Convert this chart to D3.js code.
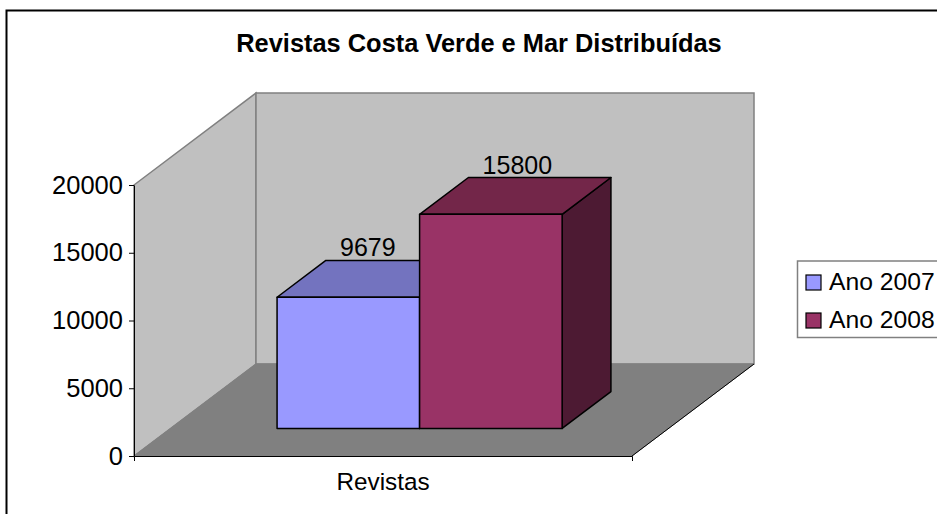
<!DOCTYPE html>
<html>
<head>
<meta charset="utf-8">
<script src="https://cdn.jsdelivr.net/npm/d3@7/dist/d3.min.js"></script>
<style>
html,body{margin:0;padding:0;background:#fff;overflow:hidden}
svg{display:block}
text{font-family:"Liberation Sans",Arial,sans-serif;fill:#000}
</style>
</head>
<body>
<svg id="chart" width="937" height="514"></svg>
<script>
const chartTitle = "Revistas Costa Verde e Mar Distribuídas";
const categories = ["Revistas"];
const seriesNames = ["Ano 2007", "Ano 2008"];
const seriesValues = [9679, 15800];
const yTicks = [0, 5000, 10000, 15000, 20000];
const faceColors = ["#9999FF", "#993366"];
const topColors = ["#7373BF", "#732649"];
const sideColors = ["#4D4D80", "#4D1A33"];

const svg = d3.select("#chart");
const frontX = [134, 632], yRange = [456, 185];
const depthDx = 122, depthDy = -92;
const barDepth = [0.30, 0.70];

const y = d3.scaleLinear().domain([0, 20000]).range(yRange);
const xCat = d3.scaleBand().domain(categories).range(frontX);
const xSeries = d3.scaleBand().domain(seriesNames).range(frontX).paddingInner(0).paddingOuter(0.747);
const depth = d3.scaleLinear().domain([0, 1]);
const dX = depth.copy().range([0, depthDx]);
const dY = depth.copy().range([0, depthDy]);
const pts = a => a.map(p => p.join(",")).join(" ");

// frame
svg.append("rect").attr("x", 6.5).attr("y", 10.5).attr("width", 1000).attr("height", 600)
  .attr("fill", "#fff").attr("stroke", "#000").attr("stroke-width", 2);

// walls and floor
const y0 = y(0), y1 = y(20000), bx = depthDx, by = depthDy;
const [xl, xr] = frontX;
svg.append("polygon").attr("points", pts([[xl, y1], [xl + bx, y1 + by], [xl + bx, y0 + by], [xl, y0]]))
  .attr("fill", "#C0C0C0").attr("stroke", "#808080").attr("stroke-width", 1.5);
svg.append("polygon").attr("points", pts([[xl + bx, y1 + by], [xr + bx, y1 + by], [xr + bx, y0 + by], [xl + bx, y0 + by]]))
  .attr("fill", "#C0C0C0").attr("stroke", "#808080").attr("stroke-width", 1.5);
svg.append("polygon").attr("points", pts([[xl, y0], [xl + bx, y0 + by], [xr + bx, y0 + by], [xr, y0]]))
  .attr("fill", "#808080").attr("stroke", "#808080").attr("stroke-width", 1);
svg.append("line").attr("x1", xr).attr("y1", y0).attr("x2", xr + bx).attr("y2", y0 + by)
  .attr("stroke", "#000").attr("stroke-width", 1);

// bars
const fx = dX(barDepth[0]), fy = dY(barDepth[0]);
const bkx = dX(barDepth[1]), bky = dY(barDepth[1]);
const bars = svg.append("g").attr("stroke", "#000").attr("stroke-width", 1.5).attr("stroke-linejoin", "round");
seriesNames.forEach((name, i) => {
  const l = xSeries(name) + fx, r = l + xSeries.bandwidth();
  const b = y0 + fy, t = y(seriesValues[i]) + fy;
  const ox = bkx - fx, oy = bky - fy;
  bars.append("polygon").attr("points", pts([[r, t], [r + ox, t + oy], [r + ox, b + oy], [r, b]])).attr("fill", sideColors[i]);
  bars.append("polygon").attr("points", pts([[l, t], [l + ox, t + oy], [r + ox, t + oy], [r, t]])).attr("fill", topColors[i]);
  bars.append("rect").attr("x", l).attr("y", t).attr("width", r - l).attr("height", b - t).attr("fill", faceColors[i]);
  svg.append("text").attr("x", l + 63).attr("y", t + oy - 4).attr("font-size", 25).text(seriesValues[i]);
});

// axes
const yAxis = svg.append("g").attr("transform", `translate(${xl},0)`)
  .call(d3.axisLeft(y).tickValues(yTicks).tickSize(5).tickSizeOuter(0).tickPadding(6).tickFormat(d3.format("d")));
const xAxis = svg.append("g").attr("transform", `translate(0,${y0})`)
  .call(d3.axisBottom(xCat).tickSizeInner(0).tickSizeOuter(5).tickPadding(17));
[yAxis, xAxis].forEach(a => a.attr("font-family", null).attr("font-size", null));
yAxis.selectAll("text").attr("font-size", 25.5).attr("fill", "#000");
xAxis.selectAll("text").attr("font-size", 24.3).attr("fill", "#000");
[yAxis, xAxis].forEach(a => a.selectAll("path,line").attr("stroke", "#000").attr("stroke-width", 1));

// title
svg.append("text").attr("x", 479).attr("y", 52).attr("text-anchor", "middle")
  .attr("font-size", 25.4).attr("font-weight", "bold").text(chartTitle);

// legend
const legend = svg.append("g");
legend.append("rect").attr("x", 797.5).attr("y", 261).attr("width", 200).attr("height", 76.5)
  .attr("fill", "#fff").attr("stroke", "#808080").attr("stroke-width", 1.5);
seriesNames.forEach((name, i) => {
  const ly = 275 + i * 38;
  legend.append("rect").attr("x", 806).attr("y", ly).attr("width", 15).attr("height", 15)
    .attr("fill", faceColors[i]).attr("stroke", "#000").attr("stroke-width", 1.2);
  legend.append("text").attr("x", 829).attr("y", ly + 15).attr("font-size", 24.7).text(name);
});
</script>
</body>
</html>
